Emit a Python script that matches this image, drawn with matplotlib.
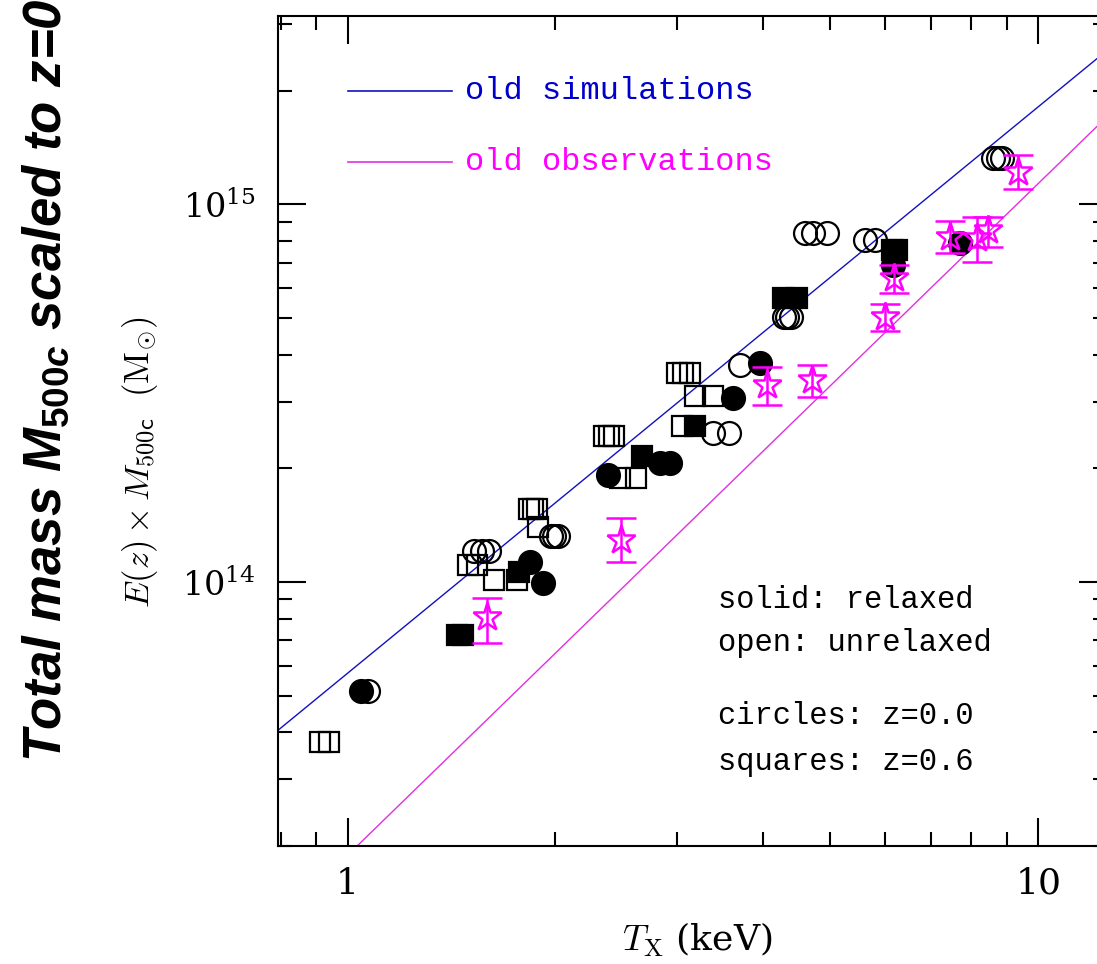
import matplotlib
matplotlib.use("Agg")
import matplotlib.pyplot as plt
from matplotlib import font_manager as fm
from matplotlib.ticker import LogLocator, NullFormatter, FuncFormatter, LogFormatterMathtext
from matplotlib.lines import Line2D

# ---------------- data ----------------
# open circles: z=0.0, unrelaxed
oc_T = [1.524, 1.565, 1.602, 1.97, 1.99, 2.02, 3.38, 3.565, 3.70,
        4.28, 4.33, 4.38, 4.59, 4.72, 4.94, 5.61, 5.80, 8.60, 8.75, 8.85, 1.070]
oc_M = [1.21e14, 1.21e14, 1.21e14, 1.32e14, 1.32e14, 1.32e14, 2.48e14, 2.48e14, 3.76e14,
        5.03e14, 5.03e14, 5.03e14, 8.39e14, 8.39e14, 8.39e14, 8.05e14, 8.05e14,
        1.326e15, 1.326e15, 1.326e15, 5.13e13]

# filled circles: z=0.0, relaxed
fc_T = [1.045, 1.838, 1.918, 2.38, 2.834, 2.93, 3.61, 3.955, 6.16, 7.70]
fc_M = [5.13e13, 1.13e14, 9.96e13, 1.92e14, 2.07e14, 2.07e14, 3.07e14, 3.80e14, 6.9e14, 7.90e14]

# open squares: z=0.6, unrelaxed
os_T = [0.912, 0.9395, 1.494, 1.539, 1.628, 1.76, 1.83, 1.855, 1.88, 1.89,
        2.35, 2.39, 2.43, 2.48, 2.62, 3.00, 3.06, 3.13, 3.18, 3.38, 3.05]
os_M = [3.76e13, 3.76e13, 1.11e14, 1.11e14, 1.014e14, 1.014e14, 1.563e14, 1.563e14, 1.563e14, 1.40e14,
        2.44e14, 2.44e14, 2.44e14, 1.89e14, 1.89e14, 3.58e14, 3.58e14, 3.58e14, 3.11e14, 3.11e14, 2.59e14]

# filled squares: z=0.6, relaxed
fs_T = [1.44, 1.47, 1.77, 2.67, 3.18, 4.27, 4.48, 6.15, 6.25]
fs_M = [7.25e13, 7.25e13, 1.065e14, 2.15e14, 2.59e14, 5.65e14, 5.65e14, 7.57e14, 7.57e14]

# old observations (stars with error bars)
obs_T = [1.591, 2.49, 4.05, 4.70, 6.00, 6.18, 7.45, 8.15, 8.45, 9.35]
obs_M = [8.09e13, 1.294e14, 3.33e14, 3.43e14, 5.03e14, 6.38e14, 8.20e14, 8.15e14, 8.55e14, 1.216e15]
obs_hi = [9.08e13, 1.48e14, 3.71e14, 3.76e14, 5.45e14, 6.91e14, 9.03e14, 9.25e14, 9.25e14, 1.349e15]
obs_lo = [6.91e13, 1.13e14, 2.95e14, 3.09e14, 4.62e14, 5.82e14, 7.43e14, 7.03e14, 7.71e14, 1.098e15]

# relations (end points of straight lines in log-log)
sim_line_T = [0.78, 12.6]
sim_line_M = [3.95e13, 2.56e15]
obs_line_T = [1.0, 12.6]
obs_line_M = [1.89e13, 1.71e15]

legend_labels = ["old simulations", "old observations"]
notes = ["solid: relaxed", "open: unrelaxed", "circles: z=0.0", "squares: z=0.6"]

# ---------------- style ----------------
def has_font(name):
    try:
        fm.findfont(fm.FontProperties(family=name), fallback_to_default=False)
        return True
    except Exception:
        return False

narrow = "Liberation Sans Narrow" if has_font("Liberation Sans Narrow") else "Liberation Sans"
outer_size = 38

plt.rcParams["font.family"] = "DejaVu Serif"
plt.rcParams["mathtext.fontset"] = "cm"
plt.rcParams["mathtext.it"] = f"{narrow}:bold:italic"
plt.rcParams["mathtext.rm"] = f"{narrow}:bold"
plt.rcParams["mathtext.bf"] = f"{narrow}:bold"

W, H = 1097, 964
fig = plt.figure(figsize=(W / 100, H / 100), dpi=100)

def fx(x):
    return x / W

def fy(y):
    return 1 - y / H

ax_l, ax_r, ax_t, ax_b = 278, 1107, 16, 846
ax = fig.add_axes([fx(ax_l), fy(ax_b), (ax_r - ax_l) / W, (ax_b - ax_t) / H])
ax.set_xscale("log")
ax.set_yscale("log")
ax.set_xlim(0.793, 12.58)
ax.set_ylim(2.0e13, 3.15e15)

BLUE = "#1010c0"
MAG = "#ff00ff"
MAGL = "#e030e0"

ax.plot(sim_line_T, sim_line_M, color=BLUE, lw=1.0, zorder=1)
ax.plot(obs_line_T, obs_line_M, color=MAGL, lw=1.0, zorder=1)

mew = 1.6
ax.plot(os_T, os_M, ls="none", marker="s", ms=15, mfc="none", mec="black", mew=mew, zorder=2)
ax.plot(oc_T, oc_M, ls="none", marker="o", ms=16.5, mfc="none", mec="black", mew=mew, zorder=2)
ax.plot(fs_T, fs_M, ls="none", marker="s", ms=15, mfc="black", mec="black", mew=mew, zorder=3)
ax.plot(fc_T, fc_M, ls="none", marker="o", ms=16.5, mfc="black", mec="black", mew=mew, zorder=3)

yerr = [[m - lo for m, lo in zip(obs_M, obs_lo)], [hi - m for m, hi in zip(obs_M, obs_hi)]]
ax.errorbar(obs_T, obs_M, yerr=yerr, ls="none", marker="*", ms=21, mfc="none", mec=MAG,
            mew=1.8, ecolor=MAG, elinewidth=1.8, capsize=10.8, capthick=1.8, zorder=4)

# ticks
ax.xaxis.set_major_locator(LogLocator(base=10, numticks=10))
ax.xaxis.set_minor_locator(LogLocator(base=10, subs=range(2, 10), numticks=20))
ax.xaxis.set_major_formatter(FuncFormatter(lambda v, p: f"{v:g}"))
ax.xaxis.set_minor_formatter(NullFormatter())
ax.yaxis.set_major_locator(LogLocator(base=10, numticks=10))
ax.yaxis.set_minor_locator(LogLocator(base=10, subs=range(2, 10), numticks=20))
ax.yaxis.set_major_formatter(LogFormatterMathtext())
ax.yaxis.set_minor_formatter(NullFormatter())
ax.tick_params(which="both", direction="in", top=True, right=True, width=1.5, colors="black")
ax.tick_params(which="major", length=20)
ax.tick_params(which="minor", length=10)
ax.tick_params(axis="x", which="major", labelsize=26, pad=15)
ax.tick_params(axis="y", which="major", labelsize=24, pad=16)
for sp in ax.spines.values():
    sp.set_linewidth(1.5)

# legend lines and texts
MONO = "Liberation Mono"
fig.add_artist(Line2D([fx(348), fx(452)], [fy(91), fy(91)], color=BLUE, lw=1.2))
fig.add_artist(Line2D([fx(348), fx(452)], [fy(162), fy(162)], color=MAGL, lw=1.2))
fig.text(fx(465), fy(91), legend_labels[0], color="#0000cc", fontsize=23, va="center",
         ha="left", family=MONO)
fig.text(fx(465), fy(162), legend_labels[1], color=MAG, fontsize=23, va="center",
         ha="left", family=MONO)

for txt, yy in zip(notes, [600, 643, 716, 762]):
    fig.text(fx(718), fy(yy), txt, color="black", fontsize=22, va="center", ha="left",
             family=MONO)

# axis labels
fig.text(fx(697), fy(940), r"$T_{\rm X}$ (keV)", fontsize=26, ha="center", va="center",
         math_fontfamily="cm")
fig.text(fx(140), fy(462), r"$E(z)\times M_{\mathsf{500c}}\ \ (\mathrm{M}_{\odot})$",
         fontsize=25, rotation=90, ha="center", va="center", math_fontfamily="cm")

fig.text(fx(46), fy(380), r"Total mass $M_{500c}$ scaled to z=0", family=narrow,
         fontweight="bold", style="italic", fontsize=outer_size, rotation=90,
         ha="center", va="center", math_fontfamily="custom")

fig.savefig("out.png", dpi=100)
